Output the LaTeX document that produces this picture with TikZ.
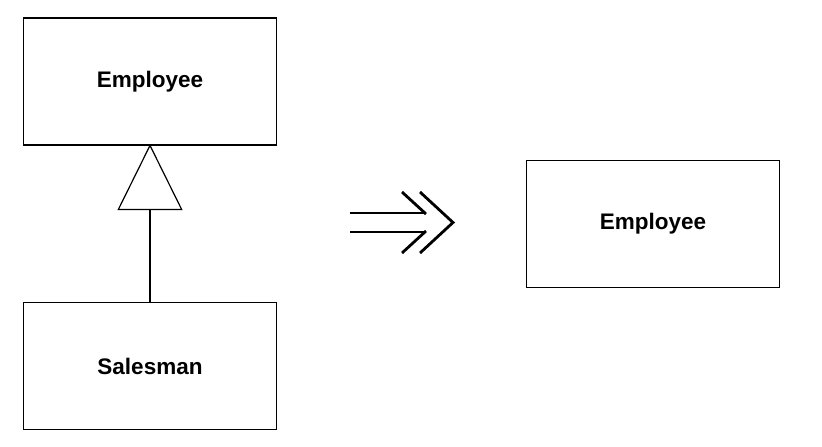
\documentclass[tikz,border=0pt]{standalone}
\usepackage{fontspec}
\setmainfont{Liberation Sans}
\usepackage{tikz}
\usetikzlibrary{arrows.meta}

\tikzset{classbox/.style={draw,line width=1.2pt,minimum width=253pt,minimum height=127pt,inner sep=0pt,font=\fontsize{22.5}{26}\selectfont\bfseries}}

\begin{document}
\begin{tikzpicture}[x=1pt,y=-1pt]
    \useasboundingbox (0,0) rectangle (822,447);
    \node[classbox] (emp) at (150,81.5) {Employee};
    \node[classbox] (sal) at (150,366) {Salesman};
    \node[classbox] (flat) at (653,224) {Employee};
    \draw[line width=1.2pt,-{Triangle[open,length=66pt,width=65pt,line width=1.2pt]}] (sal.north) -- ([yshift=1.5pt]emp.south);
    \draw[line width=2.8pt] (350,213) -- (426,213) (350,232) -- (426,232);
    \draw[line width=2.8pt] (402,192) -- (426,214) (402,253) -- (426,231);
    \draw[line width=2.8pt,line join=miter] (420,192) -- (453,222.5) -- (420,253);
\end{tikzpicture}
\end{document}
